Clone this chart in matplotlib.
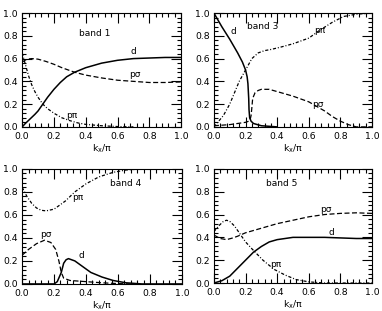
"""
Orbital character (d, p-sigma, p-pi) of four bands along k_x.
"""
import matplotlib
matplotlib.use('Agg')
import matplotlib.pyplot as plt
from matplotlib.ticker import AutoMinorLocator, MultipleLocator, FormatStrFormatter

# band 1
b1_d_x = [0.0, 0.02, 0.05, 0.08, 0.1, 0.13, 0.16, 0.2, 0.24, 0.28, 0.33, 0.4,
          0.5, 0.6, 0.7, 0.8, 0.9, 1.0]
b1_d_y = [0.0, 0.03, 0.07, 0.11, 0.14, 0.2, 0.26, 0.33, 0.39, 0.44, 0.48,
          0.52, 0.56, 0.585, 0.6, 0.605, 0.61, 0.61]
b1_ps_x = [0.0, 0.03, 0.06, 0.1, 0.15, 0.2, 0.25, 0.33, 0.4, 0.5, 0.6, 0.7,
           0.8, 0.9, 1.0]
b1_ps_y = [0.57, 0.595, 0.6, 0.595, 0.575, 0.55, 0.52, 0.48, 0.455, 0.43,
           0.41, 0.4, 0.39, 0.39, 0.395]
b1_pp_x = [0.0, 0.02, 0.04, 0.06, 0.08, 0.1, 0.13, 0.16, 0.2, 0.25, 0.3,
           0.35, 0.4, 0.5, 0.6, 0.7]
b1_pp_y = [0.65, 0.55, 0.45, 0.37, 0.31, 0.26, 0.2, 0.16, 0.12, 0.08, 0.055,
           0.035, 0.022, 0.01, 0.003, 0.0]

# band 3
b3_d_x = [0.0, 0.05, 0.1, 0.15, 0.18, 0.2, 0.21, 0.215, 0.22, 0.222, 0.226,
          0.235, 0.25, 0.3, 0.4]
b3_d_y = [1.0, 0.88, 0.77, 0.65, 0.57, 0.5, 0.44, 0.38, 0.25, 0.15, 0.08,
          0.05, 0.03, 0.01, 0.0]
b3_pp_x = [0.0, 0.03, 0.06, 0.1, 0.13, 0.16, 0.2, 0.24, 0.28, 0.32, 0.36,
           0.42, 0.5, 0.6, 0.67, 0.75, 0.82, 0.9, 1.0]
b3_pp_y = [0.0, 0.05, 0.1, 0.2, 0.3, 0.4, 0.5, 0.6, 0.65, 0.67, 0.68, 0.7,
           0.73, 0.78, 0.85, 0.92, 0.97, 0.99, 1.0]
b3_ps_x = [0.0, 0.1, 0.2, 0.22, 0.23, 0.235, 0.24, 0.245, 0.26, 0.28, 0.3,
           0.35, 0.4, 0.5, 0.6, 0.7, 0.75, 0.8, 0.85, 0.9, 1.0]
b3_ps_y = [0.01, 0.02, 0.04, 0.05, 0.07, 0.1, 0.17, 0.25, 0.3, 0.32, 0.33,
           0.33, 0.31, 0.27, 0.22, 0.14, 0.09, 0.05, 0.02, 0.0, 0.0]

# band 4
b4_pp_x = [0.0, 0.03, 0.06, 0.09, 0.12, 0.15, 0.2, 0.27, 0.33, 0.4, 0.48,
           0.57, 0.65, 0.75, 1.0]
b4_pp_y = [0.84, 0.76, 0.7, 0.66, 0.64, 0.635, 0.65, 0.72, 0.8, 0.87, 0.93,
           0.97, 0.99, 1.0, 1.0]
b4_ps_x = [0.0, 0.04, 0.09, 0.14, 0.18, 0.21, 0.23, 0.245, 0.26, 0.3, 0.4,
           0.5, 0.6, 0.7]
b4_ps_y = [0.25, 0.3, 0.35, 0.38, 0.36, 0.3, 0.2, 0.1, 0.05, 0.03, 0.02,
           0.01, 0.003, 0.0]
b4_d_x = [0.0, 0.2, 0.22, 0.245, 0.26, 0.275, 0.29, 0.33, 0.38, 0.43, 0.5,
          0.57, 0.65, 0.75, 1.0]
b4_d_y = [0.0, 0.0, 0.02, 0.1, 0.18, 0.21, 0.22, 0.2, 0.15, 0.1, 0.06, 0.03,
          0.01, 0.0, 0.0]

# band 5
b5_d_x = [0.0, 0.05, 0.1, 0.15, 0.2, 0.25, 0.3, 0.35, 0.4, 0.45, 0.5, 0.6,
          0.7, 0.8, 0.9, 1.0]
b5_d_y = [0.0, 0.02, 0.06, 0.13, 0.2, 0.27, 0.32, 0.36, 0.38, 0.39, 0.4,
          0.4, 0.4, 0.395, 0.39, 0.39]
b5_ps_x = [0.0, 0.04, 0.08, 0.12, 0.15, 0.2, 0.3, 0.4, 0.5, 0.6, 0.7, 0.8,
           0.9, 1.0]
b5_ps_y = [0.42, 0.39, 0.38, 0.395, 0.41, 0.44, 0.48, 0.52, 0.55, 0.58, 0.6,
           0.61, 0.615, 0.61]
b5_pp_x = [0.0, 0.03, 0.06, 0.08, 0.1, 0.13, 0.17, 0.2, 0.24, 0.31, 0.38,
           0.45, 0.52, 0.6, 0.7, 1.0]
b5_pp_y = [0.45, 0.5, 0.54, 0.55, 0.54, 0.5, 0.42, 0.36, 0.3, 0.2, 0.12,
           0.07, 0.03, 0.01, 0.0, 0.0]

D_STYLE = dict(color='black', lw=1.1, ls='-')
PS_STYLE = dict(color='black', lw=0.9, ls=(0, (4, 2)))
PP_STYLE = dict(color='black', lw=0.9, ls=(0, (2.5, 1.5, 0.8, 1.5)))

panels = [
    dict(rect=[0.058, 0.592, 0.416, 0.366], title='band 1', title_xy=(0.455, 0.82),
         lines=[(b1_d_x, b1_d_y, D_STYLE), (b1_ps_x, b1_ps_y, PS_STYLE),
                (b1_pp_x, b1_pp_y, PP_STYLE)],
         labels=[('d', 0.70, 0.66), ('pσ', 0.71, 0.46), ('pπ', 0.31, 0.10)]),
    dict(rect=[0.560, 0.592, 0.414, 0.366], title='band 3', title_xy=(0.31, 0.88),
         lines=[(b3_d_x, b3_d_y, D_STYLE), (b3_ps_x, b3_ps_y, PS_STYLE),
                (b3_pp_x, b3_pp_y, PP_STYLE)],
         labels=[('d', 0.12, 0.84), ('pπ', 0.67, 0.85), ('pσ', 0.66, 0.2)]),
    dict(rect=[0.058, 0.087, 0.418, 0.37], title='band 4', title_xy=(0.65, 0.875),
         lines=[(b4_d_x, b4_d_y, D_STYLE), (b4_ps_x, b4_ps_y, PS_STYLE),
                (b4_pp_x, b4_pp_y, PP_STYLE)],
         labels=[('pπ', 0.35, 0.75), ('pσ', 0.147, 0.43), ('d', 0.37, 0.25)]),
    dict(rect=[0.560, 0.090, 0.414, 0.367], title='band 5', title_xy=(0.43, 0.875),
         lines=[(b5_d_x, b5_d_y, D_STYLE), (b5_ps_x, b5_ps_y, PS_STYLE),
                (b5_pp_x, b5_pp_y, PP_STYLE)],
         labels=[('pσ', 0.705, 0.64), ('d', 0.74, 0.44), ('pπ', 0.39, 0.16)]),
]

fig = plt.figure(figsize=(3.82, 3.11), dpi=100)

for p in panels:
    ax = fig.add_axes(p['rect'])
    for xs, ys, style in p['lines']:
        ax.plot(xs, ys, **style)
    ax.set_xlim(0, 1)
    ax.set_ylim(0, 1)
    ax.xaxis.set_major_locator(MultipleLocator(0.2))
    ax.yaxis.set_major_locator(MultipleLocator(0.2))
    ax.xaxis.set_minor_locator(AutoMinorLocator(5))
    ax.yaxis.set_minor_locator(AutoMinorLocator(5))
    ax.tick_params(which='both', direction='in', top=True, right=True,
                   width=0.8, labelsize=6.7)
    ax.tick_params(axis='x', pad=3.5)
    ax.tick_params(axis='y', pad=3)
    ax.tick_params(which='major', length=7)
    ax.tick_params(which='minor', length=3)
    ax.xaxis.set_major_formatter(FormatStrFormatter('%.1f'))
    ax.yaxis.set_major_formatter(FormatStrFormatter('%.1f'))
    for s in ax.spines.values():
        s.set_linewidth(0.8)
    ax.set_xlabel('k$_\\mathregular{x}$/π', fontsize=6.7, va='top')
    ax.xaxis.set_label_coords(0.5, -0.135)
    tx, ty = p['title_xy']
    ax.text(tx, ty, p['title'], fontsize=6.5, ha='center', va='center')
    for txt, lx, ly in p['labels']:
        ax.text(lx, ly, txt, fontsize=6.5, ha='center', va='center')

fig.savefig('out.png', dpi=100)
